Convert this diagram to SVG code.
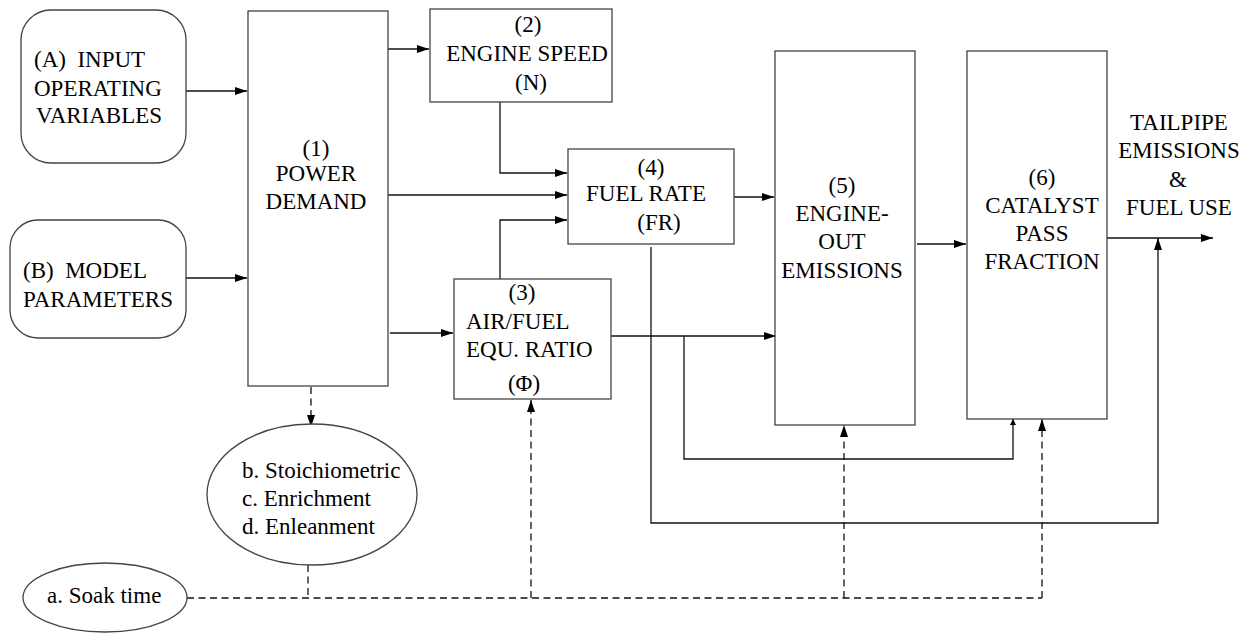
<svg xmlns="http://www.w3.org/2000/svg" width="1250" height="633" viewBox="0 0 1250 633">
<style>
text{font-family:'Liberation Serif','Times New Roman',serif;font-size:23px;fill:#000}
.c{text-anchor:middle}
.box{fill:#fff;stroke:#444;stroke-width:1.3}
.ln{fill:none;stroke:#111;stroke-width:1.3}
.ds{fill:none;stroke:#111;stroke-width:1.3;stroke-dasharray:7 4.5}
</style>
<defs>
<marker id="ah" viewBox="0 0 12 8" refX="12" refY="4" markerWidth="12" markerHeight="8" markerUnits="userSpaceOnUse" orient="auto"><path d="M0,0L12,4L0,8z" fill="#000"/></marker>
<marker id="ahs" viewBox="0 0 6 6" refX="6" refY="3" markerWidth="6" markerHeight="6" markerUnits="userSpaceOnUse" orient="auto"><path d="M0,0L6,3L0,6z" fill="#000"/></marker>
</defs>
<rect width="1250" height="633" fill="#fff"/>
<g id="connectors">
<path class="ln" d="M186,91H247" marker-end="url(#ah)"/>
<path class="ln" d="M186,278H247" marker-end="url(#ah)"/>
<path class="ln" d="M388,49H429" marker-end="url(#ah)"/>
<path class="ln" d="M500,102V173H567" marker-end="url(#ah)"/>
<path class="ln" d="M388,195H567" marker-end="url(#ah)"/>
<path class="ln" d="M500,279V220H567" marker-end="url(#ah)"/>
<path class="ln" d="M734,197H774" marker-end="url(#ah)"/>
<path class="ln" d="M390,333H453" marker-end="url(#ah)"/>
<path class="ln" d="M611,336H776" marker-end="url(#ah)"/>
<path class="ln" d="M684,336V459H1013V419" marker-end="url(#ahs)"/>
<path class="ln" d="M917,244H966" marker-end="url(#ah)"/>
<path class="ln" d="M1107,238H1213" marker-end="url(#ah)"/>
<path class="ln" d="M651,247V523H1158V238" marker-end="url(#ah)"/>
<path class="ds" d="M311,387V427" marker-end="url(#ah)"/>
<path class="ds" d="M187,598H1042"/>
<path class="ds" d="M308,565V598"/>
<path class="ds" d="M531,598V400" marker-end="url(#ah)"/>
<path class="ds" d="M844,598V425" marker-end="url(#ah)"/>
<path class="ds" d="M1042,598V419" marker-end="url(#ah)"/>
</g>
<g id="nodeA">
<rect class="box" x="21" y="10" width="165" height="153" rx="30" ry="30"/>
<text x="34" y="67">(A)&#160; INPUT</text>
<text x="34" y="96">OPERATING</text>
<text x="36" y="123">VARIABLES</text>
</g>
<g id="nodeB">
<rect class="box" x="10" y="220" width="176" height="118" rx="28" ry="28"/>
<text x="23" y="278">(B)&#160; MODEL</text>
<text x="23" y="307">PARAMETERS</text>
</g>
<g id="node1">
<rect class="box" x="248" y="11" width="140" height="375"/>
<text class="c" x="316" y="156">(1)</text>
<text class="c" x="316" y="181">POWER</text>
<text class="c" x="316" y="209">DEMAND</text>
</g>
<g id="node2">
<rect class="box" x="430" y="9" width="182" height="93"/>
<text class="c" x="528" y="32">(2)</text>
<text class="c" x="527" y="61">ENGINE SPEED</text>
<text class="c" x="531" y="90">(N)</text>
</g>
<g id="node3">
<rect class="box" x="454" y="279" width="157" height="120"/>
<text class="c" x="522" y="300">(3)</text>
<text x="466" y="329">AIR/FUEL</text>
<text x="466" y="357">EQU. RATIO</text>
<text class="c" x="524" y="391">(Φ)</text>
</g>
<g id="node4">
<rect class="box" x="568" y="149" width="166" height="95"/>
<text class="c" x="651" y="175">(4)</text>
<text class="c" x="646" y="201">FUEL RATE</text>
<text class="c" x="659" y="230">(FR)</text>
</g>
<g id="node5">
<rect class="box" x="775" y="51" width="140" height="374"/>
<text class="c" x="842" y="193">(5)</text>
<text class="c" x="842" y="221">ENGINE-</text>
<text class="c" x="842" y="249">OUT</text>
<text class="c" x="842" y="278">EMISSIONS</text>
</g>
<g id="node6">
<rect class="box" x="967" y="51" width="140" height="368"/>
<text class="c" x="1042" y="185">(6)</text>
<text class="c" x="1042" y="213">CATALYST</text>
<text class="c" x="1042" y="241">PASS</text>
<text class="c" x="1042" y="269">FRACTION</text>
</g>
<g id="output">
<text class="c" x="1179" y="130">TAILPIPE</text>
<text class="c" x="1179" y="158">EMISSIONS</text>
<text class="c" x="1178" y="187">&amp;</text>
<text class="c" x="1179" y="215">FUEL USE</text>
</g>
<g id="nodeBCD">
<ellipse class="box" cx="312" cy="494.5" rx="105" ry="70.5"/>
<text x="242" y="478">b. Stoichiometric</text>
<text x="242" y="506">c. Enrichment</text>
<text x="242" y="534">d. Enleanment</text>
</g>
<g id="nodeSoak">
<ellipse class="box" cx="105" cy="597.5" rx="82" ry="34.5"/>
<text x="47" y="603">a. Soak time</text>
</g>
</svg>
